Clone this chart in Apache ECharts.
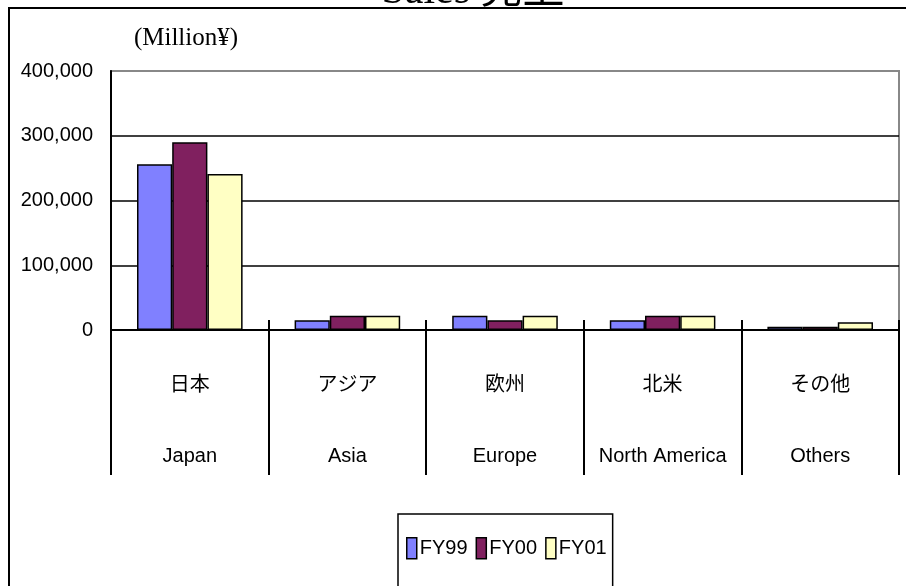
<!DOCTYPE html>
<html>
<head>
<meta charset="utf-8">
<script src="https://cdn.jsdelivr.net/npm/echarts@6/dist/echarts.min.js"></script>
<style>
  html, body { margin: 0; padding: 0; background: #fff; }
  #main { width: 906px; height: 586px; }
</style>
</head>
<body>
<div id="main"></div>
<script>
  // data
  var regionsJa = ['日本', 'アジア', '欧州', '北米', 'その他'];
  var regionsEn = ['Japan', 'Asia', 'Europe', 'North America', 'Others'];
  var fy99 = [256000, 15000, 22000, 15000, 5000];
  var fy00 = [290000, 22000, 15000, 22000, 5000];
  var fy01 = [241000, 22000, 22000, 22000, 12000];
  var yTicks = [0, 100000, 200000, 300000, 400000];

  var sans = "Liberation Sans, Noto Sans CJK JP, sans-serif";
  var serif = "Liberation Serif, Noto Sans CJK JP, serif";

  var categories = regionsJa.map(function (ja, i) { return ja + '\n' + regionsEn[i]; });

  function barStyle(color) {
    return { color: color, borderColor: '#000', borderWidth: 1.5 };
  }

  var option = {
    animation: false,
    textStyle: { fontFamily: sans, color: '#000' },
    graphic: [
      // outer frame, runs off the right and bottom of the picture
      { type: 'rect', shape: { x: 9, y: 8, width: 960, height: 640 },
        style: { fill: 'none', stroke: '#000', lineWidth: 2 }, z: 0 },
      { type: 'text', x: 473, y: 13,
        style: { text: 'Sales 売上', font: '42px ' + serif, fill: '#000',
                 textAlign: 'center', textVerticalAlign: 'bottom' }, z: 10 },
      { type: 'text', x: 186, y: 38,
        style: { text: '(Million¥)', font: '25px ' + serif, fill: '#000',
                 textAlign: 'center', textVerticalAlign: 'middle' }, z: 10 }
    ],
    legend: {
      left: 398, top: 514,
      orient: 'horizontal',
      itemWidth: 10, itemHeight: 21, itemGap: 8,
      padding: [23, 6, 40, 8],
      borderColor: '#000', borderWidth: 1.5,
      textStyle: { fontFamily: sans, fontSize: 20, color: '#000', padding: [0, 0, 0, -2] },
      itemStyle: { borderColor: '#000', borderWidth: 1.5 },
      icon: 'rect',
      data: ['FY99', 'FY00', 'FY01']
    },
    grid: {
      left: 111, right: 7, top: 71, bottom: 256,
      show: true, borderColor: '#888', borderWidth: 2, backgroundColor: 'transparent'
    },
    xAxis: [{
      type: 'category',
      data: categories,
      axisLine: { lineStyle: { color: '#000', width: 2 } },
      axisTick: { show: true, interval: 0, length: 145, lineStyle: { color: '#000', width: 2 } },
      axisLabel: { interval: 0, margin: 20, fontSize: 20, lineHeight: 71, color: '#000', fontFamily: sans }
    }, {
      type: 'category',
      data: categories,
      position: 'bottom',
      axisLine: { show: false },
      axisTick: { show: true, inside: true, interval: 0, length: 10, lineStyle: { color: '#000', width: 2 } },
      axisLabel: { show: false }
    }],
    yAxis: {
      type: 'value',
      min: yTicks[0], max: yTicks[yTicks.length - 1], interval: 100000,
      axisLine: { show: true, lineStyle: { color: '#000', width: 2 } },
      axisTick: { show: false },
      axisLabel: {
        margin: 18, fontSize: 20, color: '#000', fontFamily: sans,
        formatter: function (v) { return v.toLocaleString('en-US'); }
      },
      splitLine: { show: true, lineStyle: { color: ['#000', '#000', '#000', '#000', '#888'], width: 1.5 } }
    },
    series: [
      { name: 'FY99', type: 'bar', data: fy99, barGap: 0, barCategoryGap: '33%', itemStyle: barStyle('#8080FF') },
      { name: 'FY00', type: 'bar', data: fy00, itemStyle: barStyle('#80205F') },
      { name: 'FY01', type: 'bar', data: fy01, itemStyle: barStyle('#FFFFC4') }
    ]
  };

  var myChart = echarts.init(document.getElementById('main'));
  myChart.setOption(option);
</script>
</body>
</html>
